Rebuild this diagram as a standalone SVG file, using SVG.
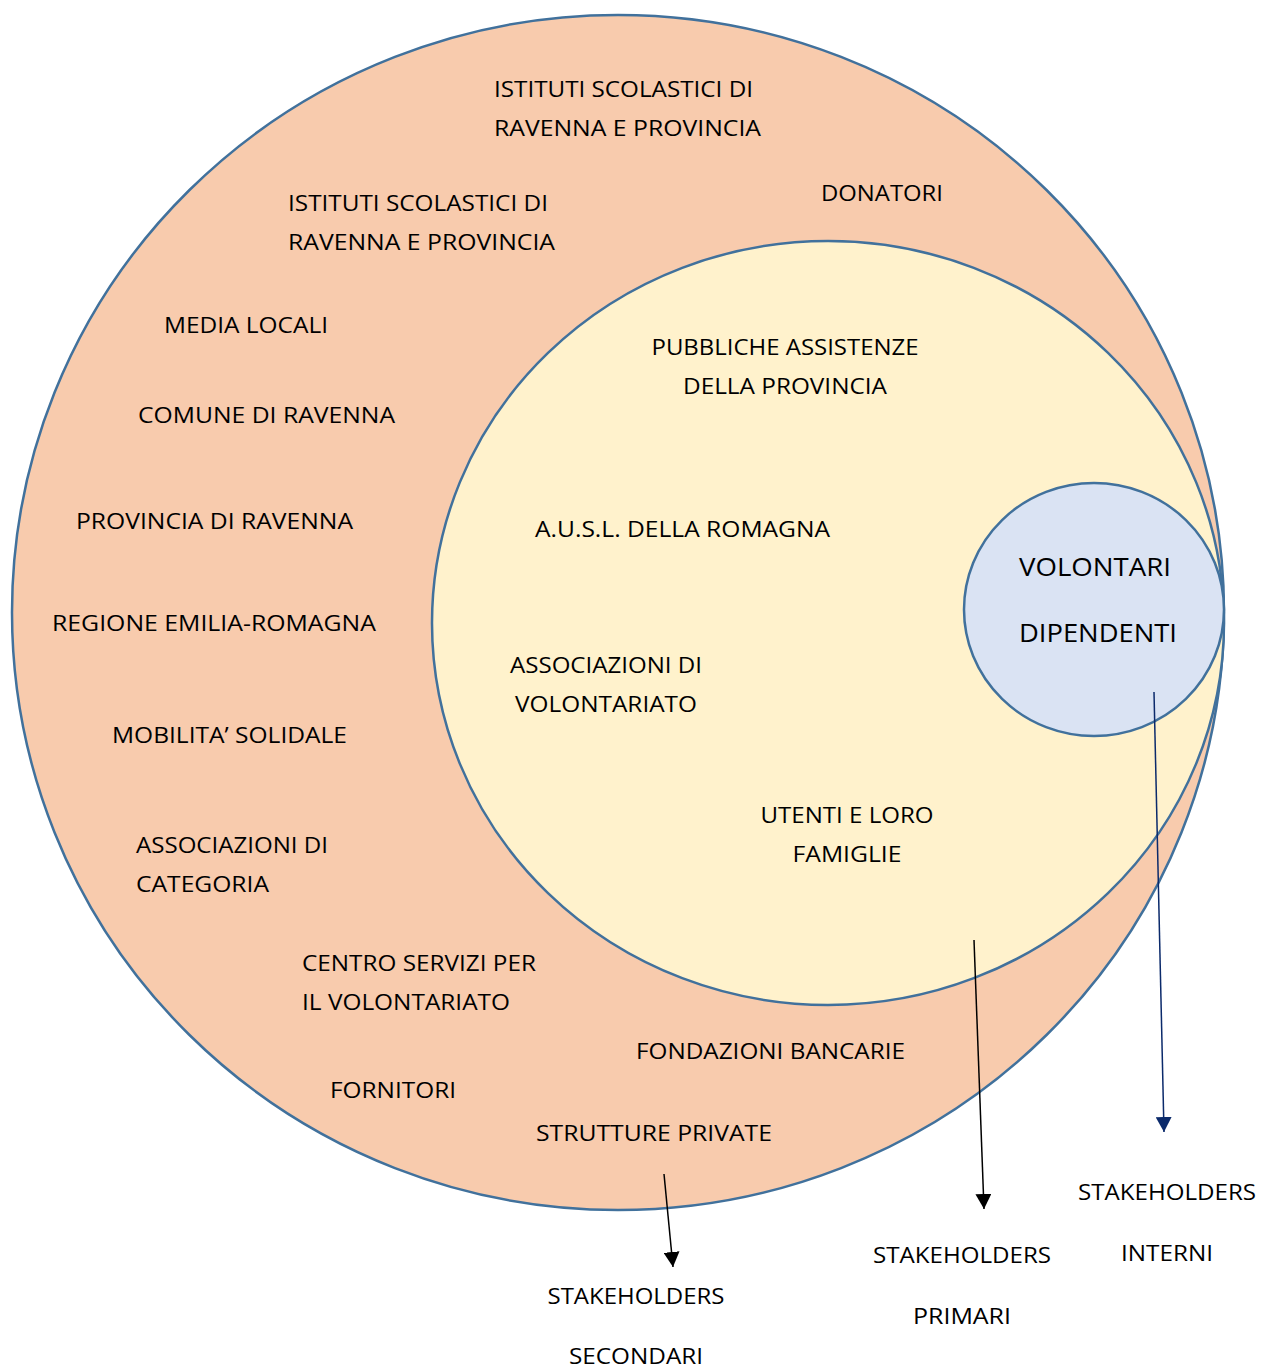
<svg xmlns="http://www.w3.org/2000/svg" width="1272" height="1367" viewBox="0 0 1272 1367">
<style>
text{font-family:"Open Sans","Noto Sans","Liberation Sans",sans-serif;font-size:22px;fill:#000;lengthAdjust:spacingAndGlyphs}
.c{text-anchor:middle}
.big{font-size:26px}
.ring{stroke:#41719C;stroke-width:2.5}
.ar{stroke:#000;stroke-width:1.5;fill:none}
.arb{stroke:#0B2A6B;stroke-width:1.5;fill:none}
</style>
<defs>
<marker id="ah" markerUnits="userSpaceOnUse" markerWidth="16" markerHeight="16" refX="15" refY="8" orient="auto"><path d="M0,0 L15,8 L0,16 Z" fill="#000"/></marker>
<marker id="ahb" markerUnits="userSpaceOnUse" markerWidth="16" markerHeight="16" refX="15" refY="8" orient="auto"><path d="M0,0 L15,8 L0,16 Z" fill="#0B2A6B"/></marker>
</defs>
<rect width="1272" height="1367" fill="#fff"/>
<g id="secondari">
<ellipse class="ring" cx="618" cy="612.5" rx="606" ry="597.5" fill="#F8CBAD"/>
<text x="494" y="97" textLength="259" lengthAdjust="spacingAndGlyphs">ISTITUTI SCOLASTICI DI</text>
<text x="494" y="136" textLength="267" lengthAdjust="spacingAndGlyphs">RAVENNA E PROVINCIA</text>
<text x="288" y="211" textLength="260" lengthAdjust="spacingAndGlyphs">ISTITUTI SCOLASTICI DI</text>
<text x="288" y="250" textLength="267" lengthAdjust="spacingAndGlyphs">RAVENNA E PROVINCIA</text>
<text x="821" y="201" textLength="122" lengthAdjust="spacingAndGlyphs">DONATORI</text>
<text x="164" y="333" textLength="164" lengthAdjust="spacingAndGlyphs">MEDIA LOCALI</text>
<text x="138" y="423" textLength="257" lengthAdjust="spacingAndGlyphs">COMUNE DI RAVENNA</text>
<text x="76" y="529" textLength="277" lengthAdjust="spacingAndGlyphs">PROVINCIA DI RAVENNA</text>
<text x="52" y="631" textLength="324" lengthAdjust="spacingAndGlyphs">REGIONE EMILIA-ROMAGNA</text>
<text x="112" y="743" textLength="235" lengthAdjust="spacingAndGlyphs">MOBILITA’ SOLIDALE</text>
<text x="136" y="853" textLength="192" lengthAdjust="spacingAndGlyphs">ASSOCIAZIONI DI</text>
<text x="136" y="892" textLength="133" lengthAdjust="spacingAndGlyphs">CATEGORIA</text>
<text x="302" y="971" textLength="234" lengthAdjust="spacingAndGlyphs">CENTRO SERVIZI PER</text>
<text x="302" y="1010" textLength="208" lengthAdjust="spacingAndGlyphs">IL VOLONTARIATO</text>
<text x="636" y="1059" textLength="269" lengthAdjust="spacingAndGlyphs">FONDAZIONI BANCARIE</text>
<text x="330" y="1098" textLength="126" lengthAdjust="spacingAndGlyphs">FORNITORI</text>
<text x="536" y="1141" textLength="236" lengthAdjust="spacingAndGlyphs">STRUTTURE PRIVATE</text>
</g>
<g id="primari">
<ellipse class="ring" cx="828" cy="623" rx="396" ry="382" fill="#FFF2CC"/>
<text class="c" x="785" y="355" textLength="267" lengthAdjust="spacingAndGlyphs">PUBBLICHE ASSISTENZE</text>
<text class="c" x="785" y="394" textLength="204" lengthAdjust="spacingAndGlyphs">DELLA PROVINCIA</text>
<text x="535" y="537" textLength="295" lengthAdjust="spacingAndGlyphs">A.U.S.L. DELLA ROMAGNA</text>
<text class="c" x="606" y="673" textLength="192" lengthAdjust="spacingAndGlyphs">ASSOCIAZIONI DI</text>
<text class="c" x="606" y="712" textLength="182" lengthAdjust="spacingAndGlyphs">VOLONTARIATO</text>
<text class="c" x="847" y="823" textLength="173" lengthAdjust="spacingAndGlyphs">UTENTI E LORO</text>
<text class="c" x="847" y="862" textLength="109" lengthAdjust="spacingAndGlyphs">FAMIGLIE</text>
</g>
<g id="interni">
<ellipse class="ring" cx="1094" cy="609.5" rx="130" ry="126.5" fill="#DAE3F3"/>
<text class="big" x="1019" y="576" textLength="152" lengthAdjust="spacingAndGlyphs">VOLONTARI</text>
<text class="big" x="1019" y="642" textLength="158" lengthAdjust="spacingAndGlyphs">DIPENDENTI</text>
</g>
<g id="connectors">
<line class="ar" x1="664" y1="1174" x2="673" y2="1267" marker-end="url(#ah)"/>
<line class="ar" x1="974" y1="940" x2="984" y2="1209" marker-end="url(#ah)"/>
<line class="arb" x1="1154" y1="692" x2="1164" y2="1132" marker-end="url(#ahb)"/>
</g>
<g id="label-secondari">
<text class="c" x="636" y="1304" textLength="177" lengthAdjust="spacingAndGlyphs">STAKEHOLDERS</text>
<text class="c" x="636" y="1364" textLength="134" lengthAdjust="spacingAndGlyphs">SECONDARI</text>
</g>
<g id="label-primari">
<text class="c" x="962" y="1263" textLength="178" lengthAdjust="spacingAndGlyphs">STAKEHOLDERS</text>
<text class="c" x="962" y="1324" textLength="98" lengthAdjust="spacingAndGlyphs">PRIMARI</text>
</g>
<g id="label-interni">
<text class="c" x="1167" y="1200" textLength="178" lengthAdjust="spacingAndGlyphs">STAKEHOLDERS</text>
<text class="c" x="1167" y="1261" textLength="92" lengthAdjust="spacingAndGlyphs">INTERNI</text>
</g>
</svg>
